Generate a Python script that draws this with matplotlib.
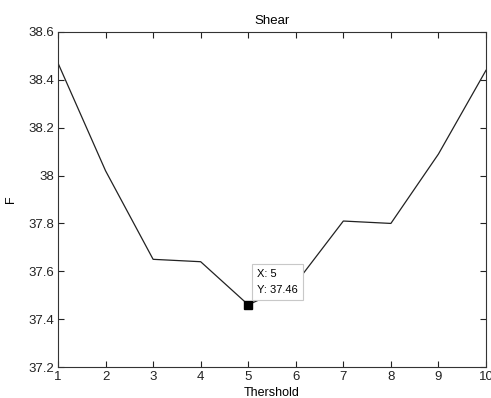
import matplotlib.pyplot as plt
import numpy as np

# threshold vs F values
threshold = [1, 2, 3, 4, 5, 6, 7, 8, 9, 10]
f_values = [38.47, 38.02, 37.65, 37.64, 37.46, 37.55, 37.81, 37.80, 38.09, 38.44]
tip_x = 5
tip_y = 37.46

plt.rcParams['font.family'] = ['Liberation Sans', 'DejaVu Sans']

fig = plt.figure(figsize=(4.91, 3.98), dpi=100)
ax = fig.add_axes([58 / 491, 1 - 367 / 398, 428 / 491, 335 / 398])

ax.plot(threshold, f_values, color='#222222', linewidth=0.9)

# data tip marker and box
ax.plot([tip_x], [tip_y], marker='s', markersize=6, color='black', linestyle='none')
ax.annotate('X: %g\nY: %.2f' % (tip_x, tip_y), xy=(tip_x, tip_y),
            xytext=(9, 10), textcoords='offset pixels', ha='left', va='bottom',
            fontsize=8, linespacing=1.7,
            bbox=dict(boxstyle='square,pad=0.45', fc='white', ec='#c8c8c8', lw=0.8),
            arrowprops=dict(arrowstyle='-', linestyle='--', color='black', lw=0.7,
                            shrinkA=0, shrinkB=3))

ax.set_xlim(1, 10)
ax.set_ylim(37.2, 38.6)
ax.set_xticks(np.arange(1, 11))
ax.set_yticks([37.2, 37.4, 37.6, 37.8, 38.0, 38.2, 38.4, 38.6])
ax.set_yticklabels(['37.2', '37.4', '37.6', '37.8', '38', '38.2', '38.4', '38.6'])
ax.tick_params(direction='in', top=True, right=True, length=4, width=0.8,
               labelsize=9.5, pad=3, colors='#222222')
for s in ax.spines.values():
    s.set_linewidth(0.8)
    s.set_color('#333333')

ax.set_title('Shear', fontsize=9.5, pad=6)
ax.set_xlabel('Thershold', fontsize=9, labelpad=3)
ax.set_ylabel('F', fontsize=9, labelpad=8)

fig.savefig('out.png', dpi=100)
